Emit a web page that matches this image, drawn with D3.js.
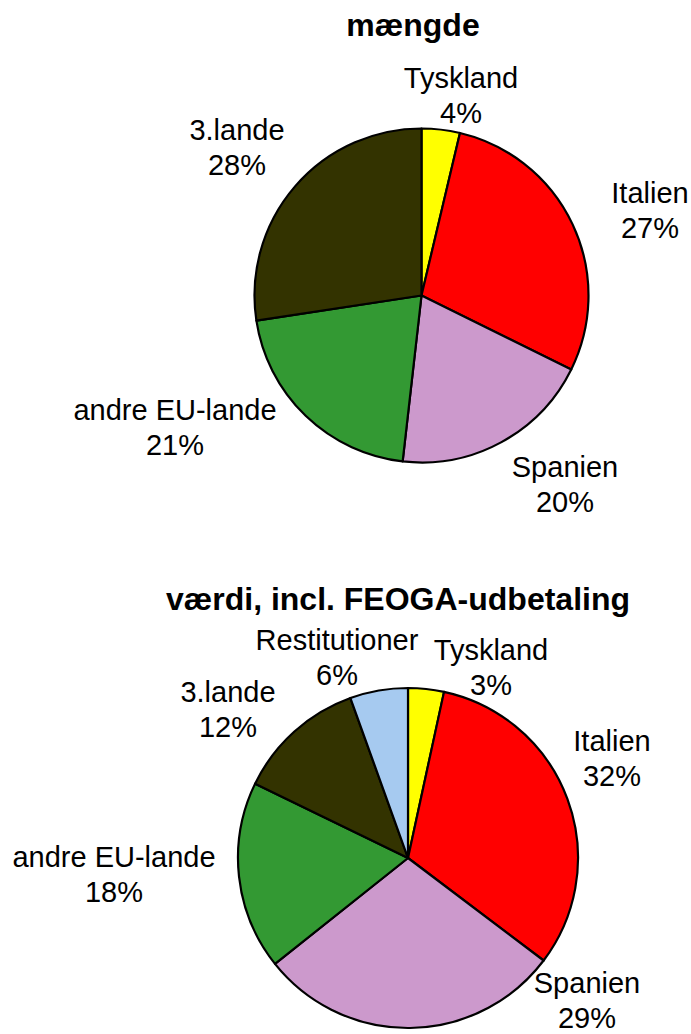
<!DOCTYPE html>
<html>
<head>
<meta charset="utf-8">
<script src="https://cdn.jsdelivr.net/npm/d3@7"></script>
<style>
  body { margin: 0; background: #fff; }
  svg { display: block; font-family: "Liberation Sans", Arial, sans-serif; }
</style>
</head>
<body>
<svg id="chart" width="691" height="1034"></svg>
<script>
// ---------- Data ----------
const topTitle = "mængde";
const topNames = ["Tyskland", "Italien", "Spanien", "andre EU-lande", "3.lande"];
const topValues = [3.7, 28.6, 19.5, 20.8, 27.4];
const topLabels = ["4%", "27%", "20%", "21%", "28%"];

const botTitle = "værdi, incl. FEOGA-udbetaling";
const botNames = ["Tyskland", "Italien", "Spanien", "andre EU-lande", "3.lande", "Restitutioner"];
const botValues = [3.4, 31.9, 29.0, 17.9, 12.3, 5.5];
const botLabels = ["3%", "32%", "29%", "18%", "12%", "6%"];

const color = d3.scaleOrdinal()
  .domain(["Tyskland", "Italien", "Spanien", "andre EU-lande", "3.lande", "Restitutioner"])
  .range(["#ffff00", "#ff0000", "#cc99cc", "#339933", "#333300", "#a6caf0"]);

// ---------- Layout ----------
const svg = d3.select("#chart");
svg.append("rect").attr("width", 691).attr("height", 1034).attr("fill", "#fff");

const charts = [
  {
    title: topTitle, names: topNames, values: topValues, labels: topLabels,
    cx: 421.5, cy: 295.5, r: 167, titleX: 413, titleY: 36,
    // label anchors (center x, first baseline)
    anchors: [[461, 88], [650, 203], [565, 477], [175, 420], [237, 140]]
  },
  {
    title: botTitle, names: botNames, values: botValues, labels: botLabels,
    cx: 408, cy: 858, r: 170, titleX: 398, titleY: 610,
    anchors: [[491, 660], [612, 751], [587, 993], [114, 867], [228, 702], [337, 650]]
  }
];

const pie = d3.pie().sort(null).value(d => d.value);

charts.forEach(c => {
  const data = c.names.map((n, i) => ({ name: n, value: c.values[i], label: c.labels[i] }));
  const arc = d3.arc().innerRadius(0).outerRadius(c.r);

  svg.append("text")
    .attr("x", c.titleX).attr("y", c.titleY)
    .attr("text-anchor", "middle")
    .attr("font-size", 32).attr("font-weight", "bold")
    .text(c.title);

  const g = svg.append("g").attr("transform", `translate(${c.cx},${c.cy})`);
  g.selectAll("path")
    .data(pie(data))
    .join("path")
    .attr("d", arc)
    .attr("fill", d => color(d.data.name))
    .attr("stroke", "#000")
    .attr("stroke-width", 2.2)
    .attr("stroke-linejoin", "round");

  const lab = svg.append("g").selectAll("text")
    .data(data)
    .join("text")
    .attr("text-anchor", "middle")
    .attr("font-size", 29)
    .attr("fill", "#000");
  lab.append("tspan")
    .attr("x", (d, i) => c.anchors[i][0])
    .attr("y", (d, i) => c.anchors[i][1])
    .text(d => d.name);
  lab.append("tspan")
    .attr("x", (d, i) => c.anchors[i][0])
    .attr("y", (d, i) => c.anchors[i][1] + 35)
    .text(d => d.label);
});
</script>
</body>
</html>
